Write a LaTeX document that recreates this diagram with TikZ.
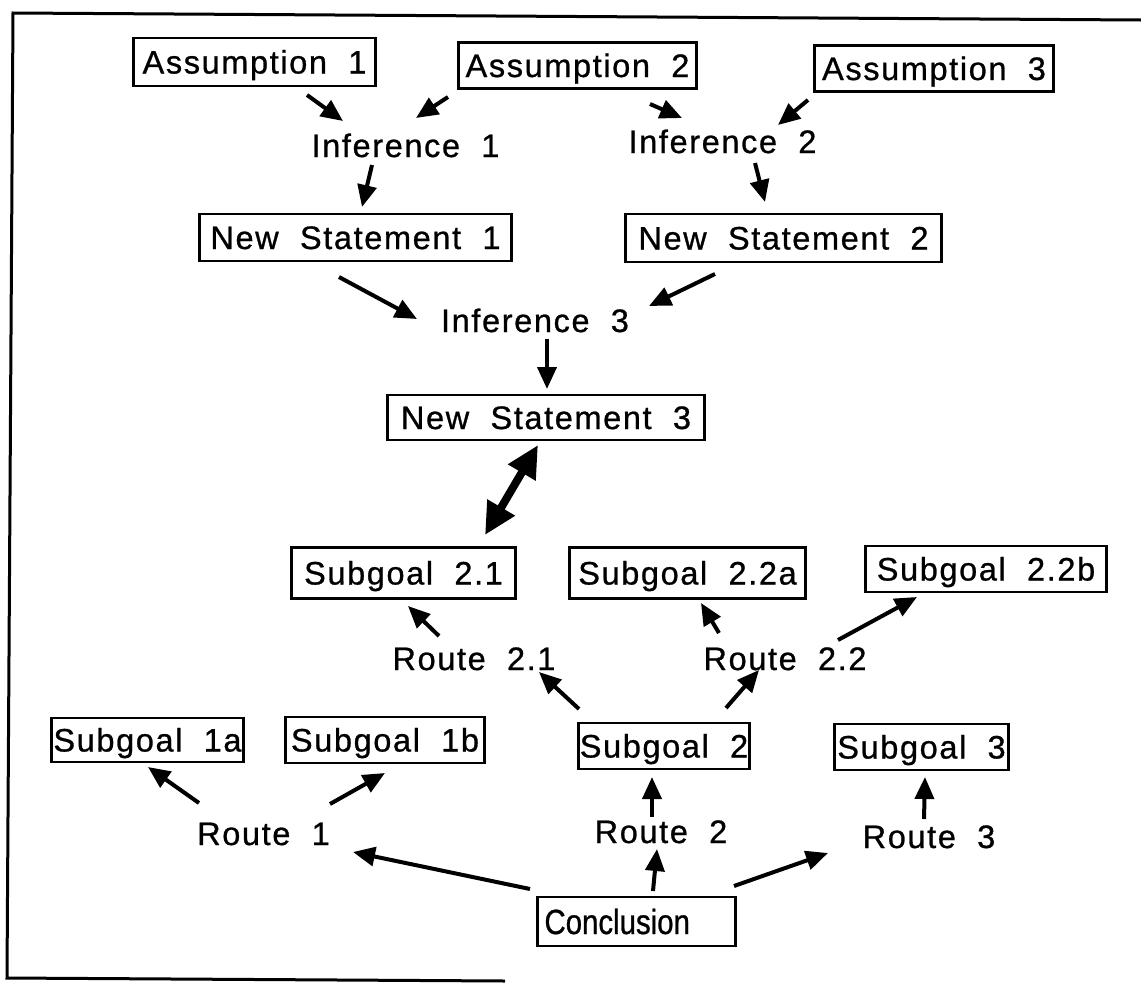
\documentclass[tikz,border=0pt]{standalone}
\usepackage{fontspec}
\setmainfont{Liberation Sans}[LetterSpace=5,WordSpace=2,FakeBold=0.8]
\newfontfamily\concfont{Liberation Sans}[FakeStretch=0.84,FakeBold=0.8]
\usetikzlibrary{arrows.meta,calc}
\begin{document}
\begin{tikzpicture}[x=1pt,y=-1pt,
  every node/.style={font=\fontsize{32.5}{36}\selectfont},
  box/.style={draw,line width=2.8pt,inner sep=0pt,text height=23pt,text depth=0pt},
  lbl/.style={inner sep=0pt,anchor=base},
  arr/.style={line width=4pt,-{Triangle[length=22pt,width=19pt]}},
  dbl/.style={line width=8pt,{Triangle[length=32pt,width=30pt]}-{Triangle[length=32pt,width=30pt]}},
  frameline/.style={line width=3pt}]
\useasboundingbox (0,0) rectangle (1141,983);
\draw[frameline] (1141,20) -- (13,13) -- (7,978) -- (505,981);

% boxes
\node[box,minimum width=242pt,minimum height=48pt] (A1) at (254.5,62) {Assumption 1};
\node[box,minimum width=238pt,minimum height=46pt] (A2) at (577.5,65.5) {Assumption 2};
\node[box,minimum width=239pt,minimum height=46pt] (A3) at (934,68.5) {Assumption 3};
\node[box,minimum width=312pt,minimum height=47pt] (NS1) at (355.5,237.5) {New Statement 1};
\node[box,minimum width=316pt,minimum height=48pt] (NS2) at (783.5,238) {New Statement 2};
\node[box,minimum width=317pt,minimum height=45pt] (NS3) at (546,417.5) {New Statement 3};
\node[box,minimum width=224pt,minimum height=51pt] (S21) at (403.5,573) {Subgoal 2.1};
\node[box,minimum width=236pt,minimum height=51pt] (S22a) at (687.5,573) {Subgoal 2.2a};
\node[box,minimum width=241pt,minimum height=46pt] (S22b) at (986,569) {Subgoal 2.2b};
\node[box,minimum width=192pt,minimum height=44pt] (S1a) at (147.5,740) {Subgoal 1a};
\node[box,minimum width=199pt,minimum height=46pt] (S1b) at (385,740) {Subgoal 1b};
\node[box,minimum width=171pt,minimum height=46pt] (S2) at (664,746) {Subgoal 2};
\node[box,minimum width=174pt,minimum height=46pt] (S3) at (921.5,747) {Subgoal 3};
\node[box,minimum width=198pt,minimum height=49pt,text width=184pt,align=left,inner xsep=7pt,
      text height=25pt,font=\concfont\fontsize{35}{38}\selectfont] (C) at (636.5,921.5) {Conclusion};

% text labels
\node[lbl] (I1) at (405.5,157) {Inference 1};
\node[lbl] (I2) at (722.5,153) {Inference 2};
\node[lbl] (I3) at (535,332) {Inference 3};
\node[lbl] (R21) at (474,670) {Route 2.1};
\node[lbl] (R22) at (785,670) {Route 2.2};
\node[lbl] (R1) at (263.5,845) {Route 1};
\node[lbl] (R2) at (661,843) {Route 2};
\node[lbl] (R3) at (929,848) {Route 3};

% connectors
\draw[arr] ($(A1)+(52.5,33)$) -- ($(I1.base)+(-62.5,-36)$);
\draw[arr] ($(A2)+(-129.5,31.5)$) -- ($(I1.base)+(10.5,-39)$);
\draw[arr] ($(A2)+(72.5,38.5)$) -- ($(I2.base)+(-40.5,-35)$);
\draw[arr] ($(A3)+(-126,31.5)$) -- ($(I2.base)+(55.5,-28)$);
\draw[arr] ($(I1.base)+(-33.5,8)$) -- ($(NS1)+(6.5,-30.5)$);
\draw[arr] ($(I2.base)+(32.5,10)$) -- ($(NS2)+(-18.5,-36)$);
\draw[arr] ($(NS1)+(-16.5,39.5)$) -- ($(I3.base)+(-118,-13)$);
\draw[arr] ($(NS2)+(-68.5,36)$) -- ($(I3.base)+(114,-26)$);
\draw[arr] ($(I3.base)+(12,7)$) -- ($(NS3)+(1,-28.5)$);
\draw[dbl] ($(NS3)+(-8,27.5)$) -- ($(S21)+(81.5,-38)$);
\draw[arr] ($(R21.base)+(-35,-34)$) -- ($(S21)+(4.5,33)$);
\draw[arr] ($(R22.base)+(-66,-37)$) -- ($(S22a)+(13.5,30)$);
\draw[arr] ($(R22.base)+(53,-30)$) -- ($(S22b)+(-69,28)$);
\draw[arr] ($(S2)+(-85,-37)$) -- ($(R21.base)+(65,2)$);
\draw[arr] ($(S2)+(62,-38)$) -- ($(R22.base)+(-26,0)$);
\draw[arr] ($(R1.base)+(-64.5,-42)$) -- ($(S1a)+(0.5,27)$);
\draw[arr] ($(R1.base)+(66.5,-41)$) -- ($(S1b)+(0,33)$);
\draw[arr] ($(C)+(-106.5,-32.5)$) -- ($(R1.base)+(89.5,7)$);
\draw[arr] ($(C)+(16.5,-30.5)$) -- ($(R2.base)+(-4,6)$);
\draw[arr] ($(R2.base)+(-9,-26)$) -- ($(S2)+(-12,31)$);
\draw[arr] ($(C)+(97.5,-35.5)$) -- ($(R3.base)+(-101,5)$);
\draw[arr] ($(R3.base)+(-5,-29)$) -- ($(S3)+(3.5,30)$);
\end{tikzpicture}
\end{document}
